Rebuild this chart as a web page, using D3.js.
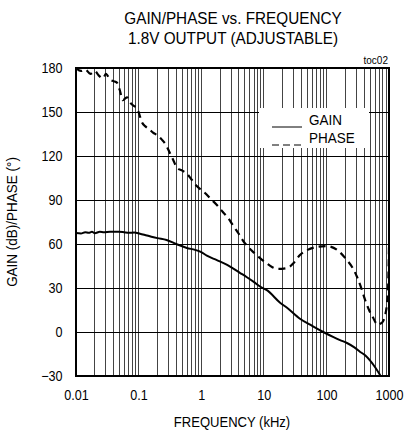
<!DOCTYPE html>
<html>
<head>
<meta charset="utf-8">
<script src="https://cdn.jsdelivr.net/npm/d3@7"></script>
<style>
  body { margin: 0; background: #fff; }
  svg text { font-family: "Liberation Sans Narrow", "Arial Narrow", "Liberation Sans", sans-serif; fill: #000; }
</style>
</head>
<body>
<svg id="chart" width="406" height="435"></svg>
<script>
// frequency in kHz, gain in dB, phase in degrees
const gainFreq = [0.01, 0.012, 0.014, 0.016, 0.018, 0.02, 0.024, 0.028, 0.035, 0.045, 0.056, 0.07, 0.085,
  0.105, 0.13, 0.16, 0.2, 0.28, 0.4, 0.59, 0.8, 1.0, 1.23, 1.78, 2.6, 4.2, 5.3, 7, 8.7, 11.2, 18.2, 23.5,
  37.8, 60, 89, 130, 165, 213, 280, 347, 420, 500, 600, 700, 780];
const gainDb = [67.5, 67.2, 68, 67.6, 68.3, 67.4, 68.3, 68, 68.4, 68.3, 68.2, 67.6, 67.8,
  67, 66, 65, 64, 62.7, 60, 57.3, 56, 54.5, 52, 49, 45.7, 40.2, 37.5, 34, 31, 28.5, 20, 16.5,
  9, 4, 0, -3.5, -5.5, -7.5, -10.5, -13.6, -16, -19.5, -24, -28.5, -32];

const phaseFreq = [0.01, 0.012, 0.014, 0.017, 0.02, 0.023, 0.027, 0.03, 0.035, 0.04, 0.045, 0.05, 0.056,
  0.065, 0.075, 0.085, 0.094, 0.1, 0.113, 0.13, 0.15, 0.17, 0.2, 0.237, 0.27, 0.316, 0.36, 0.41, 0.5,
  0.59, 0.7, 0.85, 1.0, 1.15, 1.4, 1.78, 2.2, 2.7, 3.3, 3.9, 4.7, 5.6, 7, 8.7, 11, 13.5, 17, 23.5, 30,
  37.8, 50, 70, 100, 148, 213, 260, 309, 360, 416, 480, 553, 620, 665, 720, 795, 860, 930, 970, 1000];
const phaseDeg = [180, 178, 179, 176, 178, 175, 173, 176, 172, 171, 170, 165, 158,
  160, 156, 154, 153, 150, 143, 140, 138, 136, 134, 131, 128, 122, 117, 112, 110,
  108, 104, 99.5, 97, 94.8, 91, 86.6, 82, 77.7, 72, 67.5, 62, 58, 54, 50.4, 47, 44.3, 43, 43.6, 47,
  52.5, 56, 58, 58.6, 56, 49, 44, 37.5, 30, 21.8, 15, 10, 6, 4.8, 5.5, 7, 11, 19.8, 32, 58];

const decades = [0.01, 0.1, 1, 10, 100, 1000];
const decadeLabels = ["0.01", "0.1", "1", "10", "100", "1000"];
const yTicks = [-30, 0, 30, 60, 90, 120, 150, 180];
const legendLabels = ["GAIN", "PHASE"];

const svg = d3.select("#chart");
const plotLeft = 76, plotRight = 389, plotTop = 68, plotBottom = 376;
const squeeze = 0.9; // the original type is a condensed face

const x = d3.scaleLog().domain([0.01, 1000]).range([plotLeft, plotRight]);
const y = d3.scaleLinear().domain([-30, 180]).range([plotBottom, plotTop]);

// vertical grid: 1..9 in every decade
const minor = [];
decades.slice(0, -1).forEach(d => { for (let k = 1; k < 10; k++) minor.push(d * k); });
minor.push(1000);

svg.append("g")
  .selectAll("line")
  .data(minor)
  .join("line")
  .attr("x1", d => x(d)).attr("x2", d => x(d))
  .attr("y1", plotTop).attr("y2", plotBottom)
  .attr("stroke", "#444")
  .attr("stroke-width", 1)
  .attr("shape-rendering", "crispEdges");

svg.append("g")
  .selectAll("line")
  .data(yTicks)
  .join("line")
  .attr("x1", plotLeft).attr("x2", plotRight)
  .attr("y1", d => y(d)).attr("y2", d => y(d))
  .attr("stroke", "#000")
  .attr("stroke-width", 1)
  .attr("shape-rendering", "crispEdges");

// legend box hides the grid
svg.append("rect")
  .attr("x", 259).attr("y", 108)
  .attr("width", 110).attr("height", 40)
  .attr("fill", "#fff");

svg.append("defs").append("clipPath").attr("id", "plot")
  .append("rect")
  .attr("x", plotLeft).attr("y", plotTop - 2)
  .attr("width", plotRight - plotLeft).attr("height", plotBottom - plotTop + 2);

const gainLine = d3.line()
  .x((d, i) => x(gainFreq[i]))
  .y(d => y(d))
  .curve(d3.curveMonotoneX);

const phaseLine = d3.line()
  .x((d, i) => x(phaseFreq[i]))
  .y(d => y(d))
  .curve(d3.curveMonotoneX);

const curves = svg.append("g").attr("clip-path", "url(#plot)");

curves.append("path")
  .attr("d", gainLine(gainDb))
  .attr("fill", "none")
  .attr("stroke", "#000")
  .attr("stroke-width", 2);

curves.append("path")
  .attr("d", phaseLine(phaseDeg))
  .attr("fill", "none")
  .attr("stroke", "#000")
  .attr("stroke-width", 2.2)
  .attr("stroke-dasharray", "7,5");

// frame
svg.append("rect")
  .attr("x", plotLeft).attr("y", plotTop)
  .attr("width", plotRight - plotLeft).attr("height", plotBottom - plotTop)
  .attr("fill", "none")
  .attr("stroke", "#000")
  .attr("stroke-width", 2);

// axes (labels only)
const xAxis = d3.axisBottom(x)
  .tickValues(decades)
  .tickFormat((d, i) => decadeLabels[i])
  .tickSize(0)
  .tickPadding(14);

svg.append("g")
  .attr("transform", `translate(0,${plotBottom})`)
  .call(xAxis)
  .call(g => g.select(".domain").remove())
  .call(g => g.selectAll("text")
    .style("font-size", "14px")
    .style("font-family", "\"Liberation Sans Narrow\", \"Liberation Sans\", sans-serif")
    .attr("transform", `scale(${squeeze},1)`));

const yAxis = d3.axisLeft(y)
  .tickValues(yTicks)
  .tickSize(0)
  .tickPadding(15);

svg.append("g")
  .attr("transform", `translate(${plotLeft},0)`)
  .call(yAxis)
  .call(g => g.select(".domain").remove())
  .call(g => g.selectAll("text")
    .style("font-size", "14px")
    .style("font-family", "\"Liberation Sans Narrow\", \"Liberation Sans\", sans-serif")
    .attr("transform", `scale(${squeeze},1)`));

// condensed text helper
function label(px, py, str, size, anchor, rot, sx) {
  return svg.append("text")
    .attr("transform", `translate(${px},${py})` + (rot ? ` rotate(${rot})` : "") + ` scale(${sx || squeeze},1)`)
    .attr("text-anchor", anchor)
    .style("font-size", size + "px")
    .text(str);
}

label(233, 24, "GAIN/PHASE vs. FREQUENCY", 17, "middle");
label(233, 43.5, "1.8V OUTPUT (ADJUSTABLE)", 17, "middle");
label(388, 64, "toc02", 10, "end", 0, 1);
label(232, 427, "FREQUENCY (kHz)", 15, "middle", 0, 0.87);
label(17, (plotTop + plotBottom) / 2, "GAIN (dB)/PHASE (°)", 15, "middle", -90, 0.9);

// legend
const legend = svg.append("g");
legend.selectAll("line")
  .data(legendLabels)
  .join("line")
  .attr("x1", 272).attr("x2", 302)
  .attr("y1", (d, i) => 127 + i * 18).attr("y2", (d, i) => 127 + i * 18)
  .attr("stroke", "#000")
  .attr("stroke-width", 1)
  .attr("stroke-dasharray", (d, i) => i ? "7,4" : null);

legend.selectAll("text")
  .data(legendLabels)
  .join("text")
  .attr("transform", (d, i) => `translate(309,${125 + i * 18}) scale(${squeeze},1)`)
  .style("font-size", "15px")
  .text(d => d);
</script>
</body>
</html>
